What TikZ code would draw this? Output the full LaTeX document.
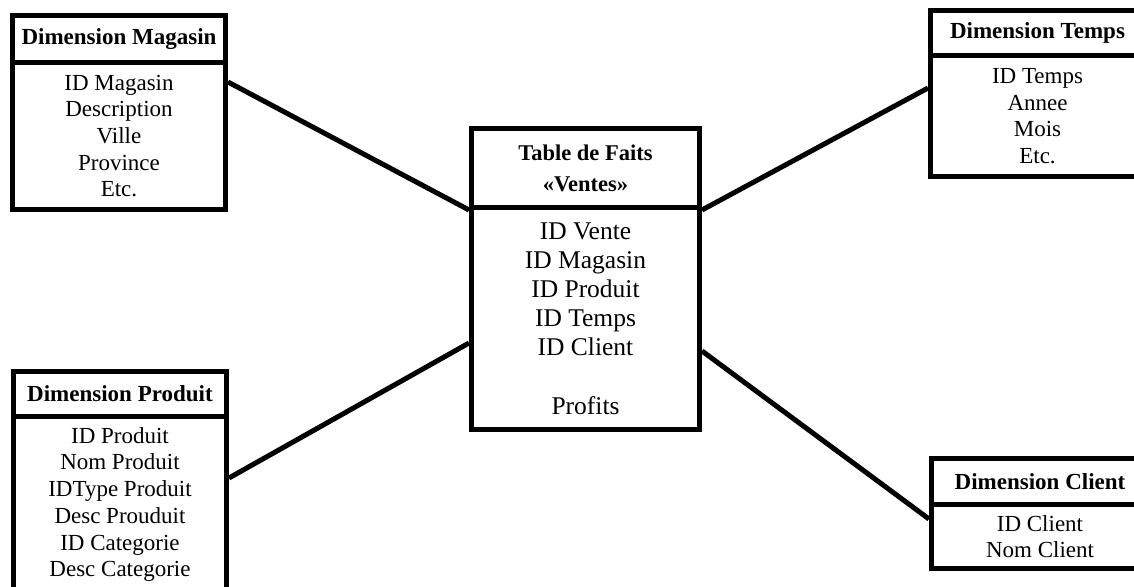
\documentclass[tikz,border=0pt]{standalone}
\usepackage{fontspec}
\setmainfont{Liberation Serif}
\usetikzlibrary{calc}
\tikzset{
  tbl/.style={draw, line width=5pt, rectangle, inner sep=0pt, align=center, anchor=north west},
  hdr/.style={tbl, font={\fontsize{23}{31}\selectfont\bfseries}},
  dimbody/.style={tbl, font={\fontsize{23}{26.7}\selectfont}},
  factbody/.style={tbl, font={\fontsize{25.5}{29.2}\selectfont}},
  link/.style={line width=5pt}
}
\begin{document}
\begin{tikzpicture}[x=1pt, y=-1pt]
\useasboundingbox[fill=white] (0,0) rectangle (1134,586);

% Dimension Magasin
\node[hdr, minimum width=213pt, minimum height=47pt] (magH) at (10,13) {Dimension Magasin};
\node[dimbody, minimum width=213pt, minimum height=147pt] (magB) at (10,60)
  {ID Magasin\\Description\\Ville\\Province\\Etc.};

% Dimension Temps
\node[hdr, minimum width=214pt, minimum height=45pt] (tmpH) at (928,8) {Dimension Temps};
\node[dimbody, minimum width=214pt, minimum height=121pt] (tmpB) at (928,53)
  {ID Temps\\Annee\\Mois\\Etc.};

% Dimension Produit
\node[hdr, minimum width=213pt, minimum height=45pt] (prdH) at (11,369) {Dimension Produit};
\node[dimbody, minimum width=213pt, minimum height=176pt] (prdB) at (11,414)
  {ID Produit\\Nom Produit\\IDType Produit\\Desc Prouduit\\ID Categorie\\Desc Categorie};

% Dimension Client
\node[hdr, minimum width=217pt, minimum height=46pt] (cliH) at (929,456) {Dimension Client};
\node[dimbody, minimum width=217pt, minimum height=64pt] (cliB) at (929,502)
  {ID Client\\Nom Client};

% Fact table
\node[hdr, font={\fontsize{22.5}{31}\selectfont\bfseries}, minimum width=228pt, minimum height=79pt] (factH) at (469,126)
  {Table de Faits\\«Ventes»};
\node[factbody, minimum width=228pt, minimum height=222pt] (factB) at (469,205)
  {ID Vente\\ID Magasin\\ID Produit\\ID Temps\\ID Client\\[29.2pt]Profits};

% Links between the fact table and the dimensions
\draw[link] ($(magB.north east)+(0,22)$) -- (factH.south west);
\draw[link] (factH.south east) -- ($(tmpB.north west)+(0,35)$);
\draw[link] ($(prdB.north east)+(0,64)$) -- ($(factB.north west)+(0,138)$);
\draw[link] ($(factB.north east)+(0,146)$) -- ($(cliB.north west)+(0,17)$);
\end{tikzpicture}
\end{document}
